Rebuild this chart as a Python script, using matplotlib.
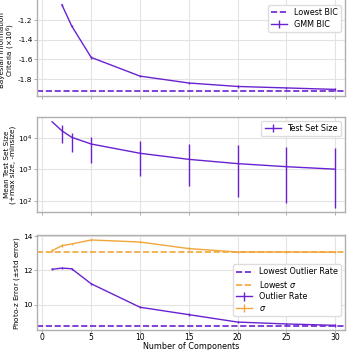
import numpy as np
import matplotlib.pyplot as plt

# number of mixture components tried
n_comp = [1, 2, 3, 5, 10, 15, 20, 25, 30]

# BIC (x1e6); 1 component falls off the top of the plot
bic_comp = [2, 3, 5, 10, 15, 20, 25, 30]
bic = [-1.045, -1.26, -1.58, -1.77, -1.84, -1.875, -1.89, -1.905]
bic_err = [0.012, 0.012, 0.012, 0.012, 0.012, 0.012, 0.012, 0.012]
bic_lowest = -1.918

# test set sizes
size_mean = [32000, 16600, 10300, 6300, 3200, 2050, 1500, 1200, 1000]
size_max = [32000, 24500, 13800, 10200, 8000, 6500, 5900, 5200, 4600]
size_min = [32000, 6600, 3600, 1600, 590, 290, 128, 83, 58]

# photo-z errors
outlier = [12.07, 12.14, 12.10, 11.23, 9.87, 9.44, 9.01, 8.90, 8.82]
outlier_err = [0.07, 0.07, 0.07, 0.07, 0.07, 0.07, 0.07, 0.07, 0.07]
sigma = [13.15, 13.44, 13.54, 13.77, 13.65, 13.27, 13.07, 13.07, 13.06]
sigma_err = [0.07, 0.07, 0.07, 0.07, 0.07, 0.07, 0.07, 0.07, 0.07]
outlier_lowest = 8.80
sigma_lowest = 13.06

PURPLE = '#6a22d0'
ORANGE = '#f2a53a'

plt.rcParams['font.size'] = 6
plt.rcParams['axes.unicode_minus'] = False

fig = plt.figure(figsize=(3.5, 3.5), dpi=100)
W = 350.0


def make_ax(top_px, bottom_px):
    return fig.add_axes([37 / W, 1 - bottom_px / W, 308 / W, (bottom_px - top_px) / W])


ax1 = make_ax(-4, 96)
ax2 = make_ax(117, 212)
ax3 = make_ax(235, 330)

for ax in (ax1, ax2, ax3):
    ax.set_xlim(-0.55, 31.0)
    ax.set_xticks([0, 5, 10, 15, 20, 25, 30])
    ax.grid(True, color='#e3e3e3', lw=0.8)
    ax.set_axisbelow(True)
    for s in ax.spines.values():
        s.set_color('#b0b0b0')
        s.set_linewidth(1.0)
    ax.tick_params(length=2, width=0.6, color='#a0a0a0', labelsize=5.5)
    ax.tick_params(axis='x', pad=0.5)
    ax.tick_params(axis='y', pad=1.2, labelsize=5.3)

ax1.tick_params(labelbottom=False)
ax2.tick_params(labelbottom=False)

leg_kw = dict(fontsize=5.8, handlelength=2.0, borderpad=0.4, labelspacing=0.3,
              framealpha=1, edgecolor='#dddddd', fancybox=True)

# --- BIC
ax1.axhline(bic_lowest, color=PURPLE, ls='--', lw=1.2, label='Lowest BIC')
ax1.errorbar(bic_comp, bic, yerr=bic_err, color=PURPLE, lw=1.0, elinewidth=1.0,
             label='GMM BIC')
ax1.set_ylim(-1.972, -0.956)
ax1.set_yticks([-1.8, -1.6, -1.4, -1.2])
ax1.set_ylabel('Bayesian Information\nCriteria ($\\times10^6$)', fontsize=5.1,
               linespacing=1.0)
ax1.yaxis.set_label_coords(-0.064, 0.46)
ax1.legend(loc='upper right', bbox_to_anchor=(1.0, 0.95), **leg_kw)

# --- test set size
size_mean = np.array(size_mean)
yerr = [size_mean - np.array(size_min), np.array(size_max) - size_mean]
ax2.errorbar(n_comp, size_mean, yerr=yerr, color=PURPLE, lw=1.0, elinewidth=1.0,
             label='Test Set Size')
ax2.set_yscale('log')
ax2.set_ylim(10 ** 1.64, 10 ** 4.657)
ax2.set_yticks([1e2, 1e3, 1e4])
ax2.minorticks_off()
ax2.set_ylabel('Mean Test Set Size\n(+max size, -minsize)', fontsize=5.2,
               linespacing=1.0)
ax2.yaxis.set_label_coords(-0.068, 0.5)
ax2.legend(loc='upper right', **leg_kw)

# --- photo-z errors
ax3.axhline(outlier_lowest, color=PURPLE, ls='--', lw=1.2, label='Lowest Outlier Rate')
ax3.axhline(sigma_lowest, color=ORANGE, ls='--', lw=1.2, label='Lowest $\\sigma$')
ax3.errorbar(n_comp, outlier, yerr=outlier_err, color=PURPLE, lw=1.0, elinewidth=1.0,
             label='Outlier Rate')
ax3.errorbar(n_comp, sigma, yerr=sigma_err, color=ORANGE, lw=1.0, elinewidth=1.0,
             label='$\\sigma$')
ax3.set_ylim(8.55, 14.058)
ax3.set_yticks([10, 12, 14])
ax3.set_ylabel('Photo-z Error ($\\pm$std error)', fontsize=5.2)
ax3.yaxis.set_label_coords(-0.05, 0.5)
ax3.set_xlabel('Number of Components', fontsize=5.8, labelpad=0)
ax3.legend(loc='center right', bbox_to_anchor=(1.0, 0.42), **leg_kw)

fig.savefig('out.png', dpi=100)
